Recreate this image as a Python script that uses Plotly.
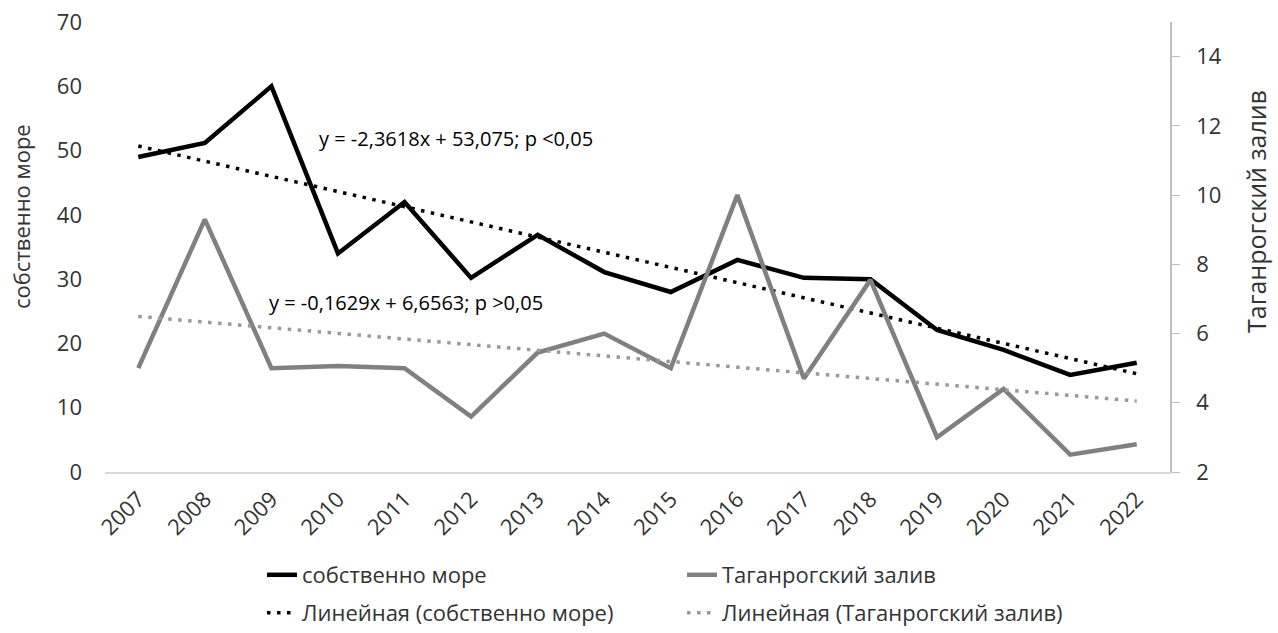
import plotly.graph_objects as go

years = [2007, 2008, 2009, 2010, 2011, 2012, 2013, 2014, 2015, 2016, 2017, 2018, 2019, 2020, 2021, 2022]
sea = [49, 51.2, 60, 34, 42, 30.2, 36.9, 31.1, 28, 33, 30.2, 30, 22.1, 19, 15.1, 17]
bay = [5.0, 9.3, 5.0, 5.06, 5.0, 3.6, 5.45, 6.0, 5.0, 10.0, 4.7, 7.55, 3.0, 4.4, 2.5, 2.8]

# trend coefficients as printed in the chart (x = 1..16)
sea_trend_coef = [-2.3618, 53.075]
bay_trend_coef = [-0.1629, 6.6563]

sea_label = "собственно море"
bay_label = "Таганрогский залив"
sea_trend_label = "Линейная (собственно море)"
bay_trend_label = "Линейная (Таганрогский залив)"
sea_eq = "y = -2,3618x + 53,075; p <0,05"
bay_eq = "y = -0,1629x + 6,6563; p >0,05"

left_ticks = [0, 10, 20, 30, 40, 50, 60, 70]
right_ticks = [2, 4, 6, 8, 10, 12, 14]

idx = list(range(1, len(years) + 1))
sea_trend = [sea_trend_coef[0] * i + sea_trend_coef[1] for i in idx]
bay_trend = [bay_trend_coef[0] * i + bay_trend_coef[1] for i in idx]

FONT = "Open Sans"
TXT = "#333333"

fig = go.Figure()
fig.add_trace(go.Scatter(x=years, y=sea, mode="lines", name=sea_label,
                         line=dict(color="#000000", width=4.5), legend="legend"))
fig.add_trace(go.Scatter(x=years, y=bay, mode="lines", name=bay_label, yaxis="y2",
                         line=dict(color="#808080", width=4.5), legend="legend2"))
fig.add_trace(go.Scatter(x=years, y=sea_trend, mode="lines", name=sea_trend_label,
                         line=dict(color="#000000", width=3.5, dash="3.5px,6.5px"), legend="legend3"))
fig.add_trace(go.Scatter(x=years, y=bay_trend, mode="lines", name=bay_trend_label, yaxis="y2",
                         line=dict(color="#999999", width=3.5, dash="3.5px,6.5px"), legend="legend4"))

W, H = 1278, 633
pl, pr, pt, pb = 105, 108, 22, 161
pw, ph = W - pl - pr, H - pt - pb


def leg(x_px, y_px):
    return dict(xref="container", yref="container", x=x_px / W, y=1 - y_px / H,
                xanchor="left", yanchor="middle", orientation="h",
                font=dict(family=FONT, size=22, color=TXT), bgcolor="rgba(0,0,0,0)",
                itemwidth=30)


def px_to_paper(x_px, y_px):
    return (x_px - pl) / pw, (H - y_px - pb) / ph


lx, ly = px_to_paper(21, 217)
rx, ry = px_to_paper(1256, 212)

fig.update_layout(
    width=W, height=H,
    margin=dict(l=pl, r=pr, t=pt, b=pb, autoexpand=False),
    paper_bgcolor="white", plot_bgcolor="white",
    font=dict(family=FONT, color=TXT),
    showlegend=True,
    legend=leg(262, 575), legend2=leg(682, 575),
    legend3=leg(262, 613), legend4=leg(682, 613),
    xaxis=dict(range=[2006.5, 2022.5], tickmode="array", tickvals=years,
               ticktext=[str(y) for y in years], tickangle=-45, automargin=False,
               tickfont=dict(family=FONT, size=22, color=TXT),
               showgrid=False, zeroline=False, showline=True, linecolor="#d9d9d9",
               linewidth=1.5, ticks="", ticklabelstandoff=4),
    yaxis=dict(range=[0, 70], tickmode="array", tickvals=left_ticks, automargin=False,
               tickfont=dict(family=FONT, size=22, color=TXT),
               showgrid=False, zeroline=False, showline=False,
               ticklabelstandoff=22),
    yaxis2=dict(range=[2, 15], tickmode="array", tickvals=right_ticks, overlaying="y", side="right",
                automargin=False,
                tickfont=dict(family=FONT, size=22, color=TXT),
                showgrid=False, zeroline=False, showline=True, linecolor="#bfbfbf", linewidth=1.5,
                ticks="outside", ticklen=8, tickcolor="#bfbfbf", ticklabelstandoff=12),
    annotations=[
        dict(x=2009.685, y=51.9, xref="x", yref="y", text=sea_eq, showarrow=False,
             xanchor="left", yanchor="middle", font=dict(family=FONT, size=20, color="#000000")),
        dict(x=2008.93, y=26.3, xref="x", yref="y", text=bay_eq, showarrow=False,
             xanchor="left", yanchor="middle", font=dict(family=FONT, size=20, color="#000000")),
        dict(x=lx, y=ly, xref="paper", yref="paper", text=sea_label, showarrow=False,
             textangle=-90, xanchor="center", yanchor="middle",
             font=dict(family=FONT, size=22, color=TXT)),
        dict(x=rx, y=ry, xref="paper", yref="paper", text=bay_label, showarrow=False,
             textangle=-90, xanchor="center", yanchor="middle",
             font=dict(family=FONT, size=25, color=TXT)),
    ],
)

fig.write_html("out.html", config={"displayModeBar": False},
               post_script="document.body.style.margin='0px';document.body.style.overflow='hidden';")
